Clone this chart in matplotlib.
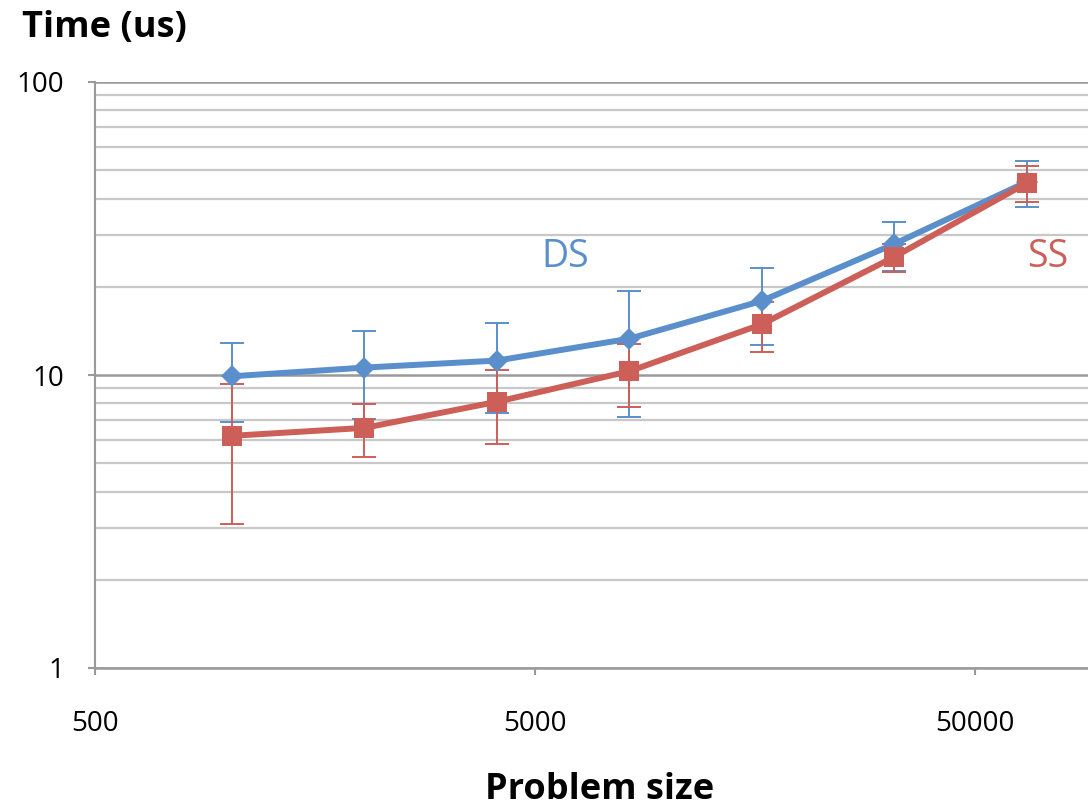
import matplotlib
matplotlib.use("Agg")
from matplotlib import pyplot as plt
from matplotlib.ticker import FixedLocator, FixedFormatter, LogLocator, NullFormatter

plt.rcParams['font.family'] = ['Open Sans', 'DejaVu Sans']

# problem sizes (powers of two)
sizes = [1024, 2048, 4096, 8192, 16384, 32768, 65536]

ds_time = [9.9, 10.6, 11.2, 13.3, 17.9, 28.0, 45.6]
ds_err = [3.0, 3.5, 3.8, 6.1, 5.2, 5.3, 8.3]

ss_time = [6.2, 6.6, 8.1, 10.3, 14.9, 25.3, 45.2]
ss_err = [3.1, 1.35, 2.3, 2.5, 2.9, 2.8, 6.3]

x_ticks = [500, 5000, 50000]
x_labels = ["500", "5000", "50000"]
y_ticks = [1, 10, 100]
y_labels = ["1", "10", "100"]

blue = "#5A8FCB"
red = "#CC5F58"

W, H = 1088, 810
fig = plt.figure(figsize=(W / 100, H / 100), dpi=100)
ax = fig.add_axes([95 / W, 142 / H, 1 - 95 / W, 586 / H])

ax.set_xscale("log")
ax.set_yscale("log")
ax.set_xlim(500, 500 * 10 ** (993 / 440))
ax.set_ylim(1, 100)

# grid lines
ax.yaxis.set_major_locator(FixedLocator(y_ticks))
ax.yaxis.set_major_formatter(FixedFormatter(y_labels))
ax.yaxis.set_minor_locator(LogLocator(base=10, subs=range(2, 10)))
ax.yaxis.set_minor_formatter(NullFormatter())
ax.grid(True, which="major", axis="y", color="#9a9a9a", lw=1.8)
ax.grid(True, which="minor", axis="y", color="#c8c8c8", lw=1.6)
ax.tick_params(axis="y", which="minor", length=0)
ax.tick_params(axis="y", which="major", length=5, width=1.5, color="#9a9a9a",
               labelsize=20, pad=17)

ax.xaxis.set_major_locator(FixedLocator(x_ticks))
ax.xaxis.set_major_formatter(FixedFormatter(x_labels))
ax.xaxis.set_minor_locator(FixedLocator([]))
ax.tick_params(axis="x", which="major", length=5, width=1.5, color="#9a9a9a",
               labelsize=20, pad=25)

for side in ["top", "right"]:
    ax.spines[side].set_visible(False)
ax.spines["left"].set_color("#9a9a9a")
ax.spines["left"].set_linewidth(1.5)
ax.spines["bottom"].set_color("#9a9a9a")
ax.spines["bottom"].set_linewidth(1.8)

# error bars
ax.errorbar(sizes, ds_time, yerr=ds_err, fmt="none", ecolor=blue, elinewidth=1.4,
            capsize=8.5, capthick=1.4, zorder=3)
ax.errorbar(sizes, ss_time, yerr=ss_err, fmt="none", ecolor=red, elinewidth=1.4,
            capsize=8.5, capthick=1.4, zorder=3)

# series
ax.plot(sizes, ds_time, color=blue, lw=4.3, marker="D", markersize=11.5,
        markeredgewidth=0, zorder=4)
ax.plot(sizes, ss_time, color=red, lw=4.3, marker="s", markersize=15,
        markeredgewidth=0, zorder=5)

fig.text(565 / W, 1 - 257 / H, "DS", color=blue, fontsize=27, ha="center", va="center")
fig.text(1048 / W, 1 - 257 / H, "SS", color=red, fontsize=27, ha="center", va="center")

fig.text(22 / W, 1 - 28 / H, "Time (us)", fontsize=26, fontweight="bold",
         ha="left", va="center")
fig.text(600 / W, 1 - 790 / H, "Problem size", fontsize=26, fontweight="bold",
         ha="center", va="center")

fig.savefig("out.png", dpi=100)
